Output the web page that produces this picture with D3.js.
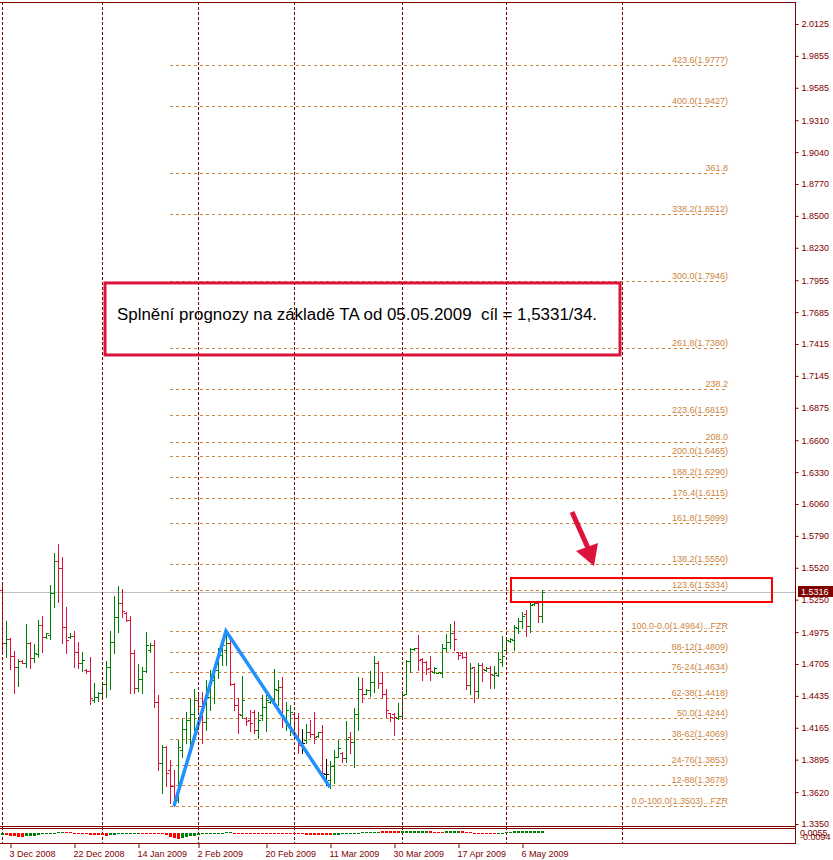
<!DOCTYPE html>
<meta charset="utf-8">
<style>
body { margin: 0; background: #fff; }
svg { display: block; font-family: "Liberation Sans", Arial, sans-serif; }
.axis text { fill: #800000; font-size: 9px; }
.axis line { stroke: #800000; }
.axis path { display: none; }
</style>
<body>
<script src="https://d3js.org/d3.v7.min.js"></script>
<script>
// daily OHLC, bar index 0 = 1 Dec 2008
var opens = [1.5332,1.4883,1.4917,1.4773,1.4680,1.4731,1.4714,1.4883,1.4756,1.4790,1.5036,1.4934,1.4951,1.5307,1.5578,1.5518,1.5019,1.4934,1.4942,1.4807,
  1.4714,1.4655,1.4646,1.4400,1.4426,1.4460,1.4536,1.4680,1.4892,1.5103,1.5222,1.5137,1.5078,1.4799,1.4502,1.4578,1.4646,1.4824,1.4866,1.4383,
  1.3867,1.4002,1.3808,1.3672,1.3554,1.3977,1.4155,1.4231,1.4282,1.4400,1.4350,1.4214,1.4426,1.4570,1.4655,1.4782,1.4824,1.4883,1.4536,1.4358,
  1.4273,1.4248,1.4231,1.4299,1.4146,1.4273,1.4341,1.4383,1.4409,1.4485,1.4511,1.4231,1.4189,1.4282,1.4248,1.4036,1.4062,1.4129,1.4112,1.4095,
  1.4129,1.3774,1.3723,1.3842,1.3917,1.3951,1.3909,1.4087,1.4045,1.4282,1.4494,1.4451,1.4485,1.4553,1.4714,1.4544,1.4451,1.4290,1.4282,1.4248,
  1.4265,1.4451,1.4731,1.4832,1.4841,1.4748,1.4722,1.4671,1.4638,1.4629,1.4629,1.4841,1.4892,1.4968,1.4807,1.4799,1.4765,1.4527,1.4680,1.4477,
  1.4697,1.4655,1.4671,1.4612,1.4612,1.4722,1.4824,1.4900,1.4909,1.5010,1.5069,1.5129,1.5027,1.5213,1.5222,1.5112];
var highs = [1.5391,1.5069,1.4925,1.4815,1.4748,1.4739,1.5044,1.4892,1.4875,1.5078,1.5112,1.4968,1.5374,1.5645,1.5722,1.5611,1.5188,1.4968,1.4985,1.4892,
  1.4807,1.4663,1.4765,1.4544,1.4468,1.4553,1.4731,1.4985,1.5281,1.5366,1.5341,1.5146,1.5112,1.4824,1.4705,1.4680,1.4976,1.4883,1.4909,1.4443,
  1.4019,1.4011,1.3892,1.3808,1.4062,1.4240,1.4299,1.4409,1.4494,1.4468,1.4468,1.4570,1.4655,1.4697,1.4841,1.4892,1.4984,1.4909,1.4544,1.4417,
  1.4604,1.4256,1.4316,1.4316,1.4299,1.4443,1.4443,1.4417,1.4663,1.4570,1.4595,1.4383,1.4358,1.4290,1.4290,1.4155,1.4197,1.4231,1.4299,1.4129,
  1.4189,1.3901,1.3884,1.3977,1.4062,1.3960,1.4223,1.4129,1.4333,1.4595,1.4587,1.4494,1.4646,1.4773,1.4731,1.4638,1.4494,1.4290,1.4290,1.4375,
  1.4477,1.4739,1.4841,1.4841,1.4951,1.4756,1.4731,1.4773,1.4680,1.4638,1.4875,1.4959,1.5044,1.5069,1.4807,1.4807,1.4807,1.4714,1.4680,1.4714,
  1.4714,1.4680,1.4688,1.4688,1.4807,1.4942,1.4934,1.4925,1.5036,1.5095,1.5146,1.5163,1.5230,1.5230,1.5230,1.5332];
var lows = [1.4799,1.4765,1.4663,1.4460,1.4519,1.4714,1.4680,1.4671,1.4722,1.4765,1.4807,1.4925,1.4917,1.5188,1.5230,1.4883,1.4799,1.4925,1.4680,1.4671,
  1.4646,1.4629,1.4367,1.4383,1.4392,1.4417,1.4426,1.4494,1.4799,1.4976,1.5103,1.5069,1.4460,1.4460,1.4477,1.4460,1.4638,1.4807,1.4341,1.3808,
  1.3613,1.3672,1.3529,1.3503,1.3537,1.3917,1.4036,1.4019,1.4146,1.4299,1.4036,1.4146,1.4316,1.4375,1.4587,1.4697,1.4697,1.4527,1.4316,1.4121,
  1.4248,1.4189,1.4138,1.4121,1.4079,1.4231,1.4138,1.4375,1.4375,1.4358,1.4172,1.4146,1.4104,1.4146,1.3951,1.3951,1.4036,1.4087,1.4036,1.4087,
  1.3748,1.3681,1.3655,1.3698,1.3917,1.3875,1.3875,1.3951,1.3833,1.4146,1.4383,1.4451,1.4434,1.4468,1.4502,1.4417,1.4256,1.4223,1.4104,1.4240,
  1.4256,1.4451,1.4638,1.4824,1.4655,1.4570,1.4621,1.4570,1.4629,1.4629,1.4595,1.4815,1.4841,1.4824,1.4748,1.4756,1.4494,1.4451,1.4383,1.4426,
  1.4561,1.4646,1.4502,1.4502,1.4604,1.4688,1.4807,1.4892,1.4824,1.4968,1.5010,1.4942,1.4976,1.5205,1.5061,1.5061];
var closes = [1.4883,1.4917,1.4773,1.4680,1.4731,1.4714,1.4883,1.4756,1.4799,1.5036,1.4934,1.4968,1.5307,1.5578,1.5518,1.5019,1.4909,1.4942,1.4807,1.4714,
  1.4739,1.4646,1.4417,1.4426,1.4460,1.4536,1.4680,1.4892,1.5103,1.5222,1.5154,1.5078,1.4799,1.4502,1.4578,1.4646,1.4866,1.4866,1.4383,1.3867,
  1.4002,1.3782,1.3672,1.3554,1.4002,1.4155,1.4231,1.4282,1.4400,1.4350,1.4214,1.4426,1.4604,1.4655,1.4782,1.4866,1.4883,1.4536,1.4358,1.4282,
  1.4400,1.4223,1.4206,1.4146,1.4231,1.4341,1.4400,1.4409,1.4494,1.4511,1.4248,1.4316,1.4299,1.4248,1.4019,1.4036,1.4129,1.4112,1.4087,1.4129,
  1.3782,1.3774,1.3842,1.3917,1.3993,1.3909,1.4070,1.4045,1.4282,1.4494,1.4451,1.4485,1.4553,1.4714,1.4544,1.4451,1.4316,1.4256,1.4256,1.4265,
  1.4443,1.4731,1.4832,1.4841,1.4739,1.4722,1.4663,1.4646,1.4671,1.4638,1.4841,1.4892,1.4968,1.4917,1.4782,1.4765,1.4527,1.4671,1.4477,1.4697,
  1.4663,1.4671,1.4621,1.4629,1.4748,1.4773,1.4909,1.4917,1.5019,1.5069,1.5112,1.5027,1.5205,1.5222,1.5112,1.5316];

// oscillator sub-window (values in 0.001) and bar colours (1 = green)
var osc = [-2.0,-2.6,-3.0,-3.5,-3.8,-4.0,-3.6,-3.2,-2.8,-2.2,-1.6,-1.0,-0.6,-0.3,0.3,0.8,0.6,0.2,-0.8,-1.2,
  -1.5,-1.7,-2.0,-2.2,-2.4,-2.6,-2.8,-2.5,-2.0,-1.6,-1.2,-0.9,-0.6,-0.4,-0.3,-0.3,-0.4,-0.5,-0.6,-0.9,
  -1.5,-2.6,-3.8,-5.0,-6.0,-5.2,-4.4,-3.6,-2.8,-2.2,-1.6,-1.2,-0.8,-0.5,-0.3,-0.2,0.4,0.9,-1.0,-1.2,
  -1.3,-1.4,-1.4,-1.3,-1.2,-1.0,-0.4,-0.4,-0.4,-0.4,-0.4,-0.4,-0.4,-0.8,-1.2,-1.5,-1.8,-2.0,-2.2,-2.4,
  -2.5,-2.6,-2.6,-2.2,-1.9,-1.6,-1.3,-1.0,-0.7,-0.5,0.3,0.3,0.4,0.4,0.5,1.2,1.3,1.3,1.2,1.0,
  1.0,1.2,1.3,1.4,1.4,1.3,1.2,1.0,0.8,0.6,0.5,1.0,1.2,1.3,1.2,1.0,0.8,0.6,-0.4,-0.4,
  -0.4,-0.4,-0.4,-0.4,-0.4,-0.4,0.6,0.8,1.0,1.0,1.0,1.0,1.0,1.0,1.0,1.0];
var oscUp = [1,0,0,0,0,0,1,1,1,1,1,1,1,1,1,1,0,0,0,0,
  0,0,0,0,0,0,0,1,1,1,1,1,1,1,1,0,0,0,0,0,
  0,0,0,0,0,1,1,1,1,1,1,1,1,1,1,1,1,1,0,0,
  0,0,0,0,0,0,0,0,0,0,0,0,0,0,0,0,0,0,0,0,
  0,0,0,1,1,1,1,1,1,1,1,1,1,1,1,0,0,0,0,0,
  1,1,1,1,1,1,1,0,0,0,0,1,1,1,1,0,0,0,0,0,
  0,0,0,0,1,1,1,1,1,1,1,1,1,1,1,1];

// fibonacci expansion levels
var fibLabels = ["423.6(1.9777)","400.0(1.9427)","361.8","338.2(1.8512)","300.0(1.7946)","261.8(1.7380)","238.2",
  "223.6(1.6815)","208.0","200.0(1.6465)","188.2(1.6290)","176.4(1.6115)","161.8(1.5899)","138.2(1.5550)","123.6(1.5334)",
  "100.0-0.0(1.4984)...FZR","88-12(1.4809)","76-24(1.4634)","62-38(1.4418)","50.0(1.4244)","38-62(1.4069)",
  "24-76(1.3853)","12-88(1.3678)","0.0-100.0(1.3503)...FZR"];
var fibPrices = [1.9777,1.9427,1.8861,1.8512,1.7946,1.7380,1.7031,1.6815,1.6584,1.6465,1.6290,1.6115,1.5899,1.5550,1.5334,
  1.4984,1.4809,1.4634,1.4418,1.4244,1.4069,1.3853,1.3678,1.3503];

var yTicks = [2.0125,1.9855,1.9585,1.9310,1.9040,1.8770,1.8500,1.8230,1.7955,1.7685,1.7415,1.7145,1.6875,1.6600,
  1.6330,1.6060,1.5790,1.5520,1.5250,1.4975,1.4705,1.4435,1.4165,1.3895,1.3620,1.3350];
var xTickIdx = [2,18,34,49,66,82,98,114,130];
var xTickLabels = ["3 Dec 2008","22 Dec 2008","14 Jan 2009","2 Feb 2009","20 Feb 2009","11 Mar 2009","30 Mar 2009","17 Apr 2009","6 May 2009"];
var separators = [0,25,49,73,100,126,155];

var zigIdx = [43,56,82];
var zigPrice = [1.3503,1.4984,1.3660];
var lastPrice = 1.5316;

var W = 833, H = 860;
var axisX = 795, plotTop = 2, mainBottom = 826, subTop = 829, subBottom = 843;
var maroon = "#800000";

var svg = d3.select("body").append("svg").attr("width", W).attr("height", H);

var x = d3.scaleLinear().domain([0, 198]).range([2, 794]);
var y = d3.scaleLinear().domain([1.3350, 2.0125]).range([824, 24]);
var yo = d3.scaleLinear().domain([-9.5, 3.2]).range([subBottom, subTop]);

svg.append("clipPath").attr("id", "main").append("rect")
  .attr("x", 0).attr("y", plotTop).attr("width", axisX).attr("height", mainBottom - plotTop);

var g = svg.append("g").attr("clip-path", "url(#main)");

// fib levels
var fibG = g.append("g");
fibG.selectAll("line").data(fibPrices).enter().append("line")
  .attr("x1", x(42)).attr("x2", x(181.5))
  .attr("y1", function(d){ return Math.round(y(d)) + 0.5; })
  .attr("y2", function(d){ return Math.round(y(d)) + 0.5; })
  .attr("stroke", "#cd853f").attr("stroke-dasharray", "3,3");
fibG.selectAll("text").data(fibPrices).enter().append("text")
  .attr("x", x(181.5)).attr("y", function(d){ return Math.round(y(d)) - 2; })
  .attr("text-anchor", "end").attr("font-size", "9px").attr("fill", "#cd853f")
  .text(function(d, i){ return fibLabels[i]; });

// period separators
svg.selectAll(".sep").data(separators).enter().append("line")
  .attr("class", "sep")
  .attr("x1", function(d){ return x(d) + 0.5; }).attr("x2", function(d){ return x(d) + 0.5; })
  .attr("y1", plotTop).attr("y2", subBottom)
  .attr("stroke", maroon).attr("stroke-dasharray", "3,2");

// current price line
g.append("line").attr("x1", 0).attr("x2", axisX)
  .attr("y1", Math.round(y(lastPrice)) + 0.5).attr("y2", Math.round(y(lastPrice)) + 0.5)
  .attr("stroke", "#c0c0c0");

// OHLC bars
var bars = g.append("g").attr("shape-rendering", "crispEdges");
function barColor(i) {
  if (closes[i] > opens[i]) return "#008000";
  if (closes[i] < opens[i]) return "#dc143c";
  return "#000";
}
opens.forEach(function(o, i) {
  var cx = x(i) + 0.5, c = barColor(i);
  bars.append("line").attr("x1", cx).attr("x2", cx)
    .attr("y1", y(highs[i])).attr("y2", y(lows[i]) + 1).attr("stroke", c);
  bars.append("line").attr("x1", cx - 2.5).attr("x2", cx)
    .attr("y1", Math.round(y(o)) + 0.5).attr("y2", Math.round(y(o)) + 0.5).attr("stroke", c);
  bars.append("line").attr("x1", cx).attr("x2", cx + 2.5)
    .attr("y1", Math.round(y(closes[i])) + 0.5).attr("y2", Math.round(y(closes[i])) + 0.5).attr("stroke", c);
});

// zigzag
g.append("path")
  .attr("d", d3.line()(zigIdx.map(function(d, i){ return [x(d), y(zigPrice[i])]; })))
  .attr("fill", "none").attr("stroke", "#1e90ff").attr("stroke-width", 3.5);

// target box around 123.6 level
g.append("rect")
  .attr("x", x(127.25)).attr("y", y(1.5433))
  .attr("width", x(192.5) - x(127.25)).attr("height", y(1.5230) - y(1.5433))
  .attr("fill", "none").attr("stroke", "#ff0000").attr("stroke-width", 2);

// comment box
g.append("rect")
  .attr("x", x(25.75)).attr("y", y(1.7932))
  .attr("width", x(154.5) - x(25.75)).attr("height", y(1.7322) - y(1.7932))
  .attr("fill", "none").attr("stroke", "#dc143c").attr("stroke-width", 3);
g.append("text").attr("x", x(28.75)).attr("y", y(1.7618))
  .attr("font-size", "16px").attr("fill", "#000").style("white-space", "pre")
  .attr("textLength", 480).attr("lengthAdjust", "spacingAndGlyphs")
  .text("Splnění prognozy na základě TA od 05.05.2009  cíl = 1,5331/34.");

// arrow
g.append("line")
  .attr("x1", x(142.5)).attr("y1", y(1.5992))
  .attr("x2", x(146.5)).attr("y2", y(1.5687))
  .attr("stroke", "#dc143c").attr("stroke-width", 5);
g.append("polygon")
  .attr("points", [[143.5, 1.5662], [149, 1.5730], [148, 1.5535]].map(function(p){ return x(p[0]) + "," + y(p[1]); }).join(" "))
  .attr("fill", "#dc143c");

// oscillator
svg.append("g").attr("shape-rendering", "crispEdges")
  .selectAll("rect").data(osc).enter().append("rect")
  .attr("x", function(d, i){ return x(i) - 1; })
  .attr("width", 3)
  .attr("y", function(d){ return Math.min(yo(0), yo(d)); })
  .attr("height", function(d){ return Math.max(1, Math.abs(yo(d) - yo(0))); })
  .attr("fill", function(d, i){ return oscUp[i] ? "#008000" : "#ff0000"; });

// frame
var frame = svg.append("g").attr("stroke", maroon).attr("shape-rendering", "crispEdges");
frame.append("line").attr("x1", 0).attr("x2", axisX).attr("y1", plotTop + 0.5).attr("y2", plotTop + 0.5);
frame.append("line").attr("x1", 0).attr("x2", axisX).attr("y1", mainBottom + 0.5).attr("y2", mainBottom + 0.5);
frame.append("line").attr("x1", 0).attr("x2", axisX).attr("y1", subTop - 0.5).attr("y2", subTop - 0.5);
frame.append("line").attr("x1", 0).attr("x2", axisX).attr("y1", subBottom + 0.5).attr("y2", subBottom + 0.5);
frame.append("line").attr("x1", axisX + 0.5).attr("x2", axisX + 0.5).attr("y1", plotTop).attr("y2", subBottom + 1);

// price axis
svg.append("g").attr("class", "axis")
  .attr("transform", "translate(" + (axisX + 0.5) + ",0)")
  .call(d3.axisRight(y).tickValues(yTicks).tickSize(3).tickPadding(3).tickFormat(d3.format(".4f")));

// current price tag
svg.append("rect").attr("x", axisX + 3).attr("y", Math.round(y(lastPrice)) - 6)
  .attr("width", 35).attr("height", 11).attr("fill", maroon);
svg.append("text").attr("x", axisX + 6).attr("y", Math.round(y(lastPrice)) + 3)
  .attr("font-size", "9px").attr("fill", "#fff").text(d3.format(".4f")(lastPrice));

// oscillator scale labels (overlapping as in source)
svg.append("text").attr("x", axisX + 5).attr("y", 836).attr("font-size", "9px").attr("fill", maroon).text("0.0055");
svg.append("text").attr("x", axisX + 5).attr("y", 840).attr("font-size", "9px").attr("fill", maroon).text("-0.0094");

// time axis
var xa = svg.append("g").attr("class", "axis")
  .attr("transform", "translate(0," + (subBottom + 1) + ")")
  .call(d3.axisBottom(x).tickValues(xTickIdx).tickSize(4).tickPadding(3)
    .tickFormat(function(d, i){ return xTickLabels[i]; }));
xa.selectAll(".tick line").attr("transform", "translate(0.5,0)");
xa.selectAll("text").attr("text-anchor", "start").attr("x", -1).attr("font-size", "9.5px");
</script>
</body>
